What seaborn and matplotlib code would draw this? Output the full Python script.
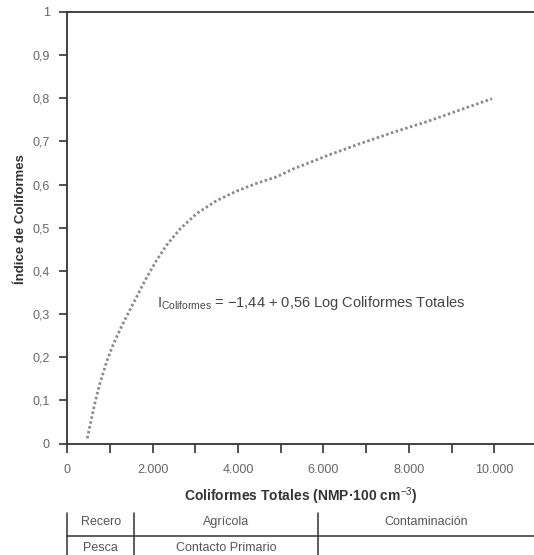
import matplotlib
matplotlib.use("Agg")
import matplotlib.pyplot as plt
import matplotlib.transforms as mtransforms
from matplotlib.ticker import MultipleLocator, FuncFormatter
import seaborn as sns
import pandas as pd

# Data
coliformes = [468, 571, 649, 766, 923, 1077, 1274, 1468, 1625, 1859, 2094, 2328,
              2639, 3030, 3499, 3967, 4436, 4904, 5286, 6082, 6855, 7628, 8424,
              9197, 9946]
indice = [0.012, 0.060, 0.095, 0.140, 0.190, 0.230, 0.272, 0.310, 0.340, 0.385,
          0.425, 0.460, 0.497, 0.533, 0.563, 0.585, 0.603, 0.618, 0.636, 0.667,
          0.695, 0.721, 0.746, 0.773, 0.799]
table_row1 = ["Recero", "Agrícola", "Contaminación"]
table_row2 = ["Pesca", "Contacto Primario"]
table_bounds = [0, 1560, 5870, 10930]

sns.set_theme(style="ticks")
plt.rcParams["font.family"] = ["Liberation Sans", "DejaVu Sans"]
plt.rcParams["mathtext.fontset"] = "custom"
plt.rcParams["mathtext.rm"] = "Liberation Sans"
plt.rcParams["mathtext.it"] = "Liberation Sans:italic"
plt.rcParams["mathtext.bf"] = "Liberation Sans:bold"

df = pd.DataFrame({"x": coliformes, "y": indice})

fig = plt.figure(figsize=(5.34, 5.55), dpi=100)
ax = fig.add_axes([67.3 / 534, 111.5 / 555, 1 - 67.3 / 534, (443.5 - 12) / 555])

sns.lineplot(data=df, x="x", y="y", ax=ax, color="#8a8a8a", linewidth=2.0,
             linestyle=(0, (0.9, 0.9)))

ax.set_xlim(0, 10930)
ax.set_ylim(0, 1)
ax.xaxis.set_major_locator(MultipleLocator(2000))
ax.xaxis.set_minor_locator(MultipleLocator(1000))
ax.yaxis.set_major_locator(MultipleLocator(0.1))


def xfmt(v, pos):
    v = int(round(v))
    if v == 0:
        return "0"
    return f"{v:,}".replace(",", ".")


def yfmt(v, pos):
    if abs(v) < 1e-9:
        return "0"
    if abs(v - 1) < 1e-9:
        return "1"
    return f"{v:.1f}".replace(".", ",")


ax.xaxis.set_major_formatter(FuncFormatter(xfmt))
ax.yaxis.set_major_formatter(FuncFormatter(yfmt))

for side in ["left", "bottom", "top"]:
    ax.spines[side].set_color("#333333")
    ax.spines[side].set_linewidth(1.3)
ax.spines["right"].set_visible(False)

ax.tick_params(axis="y", which="major", length=6, width=1.2, color="#333333",
               labelsize=9, labelcolor="#666666", pad=6.5)
ax.tick_params(axis="x", which="both", length=6.5, width=1.2, color="#333333",
               labelsize=9, labelcolor="#666666", pad=8)

ax.set_xlabel("Coliformes Totales (NMP·100 cm$^{-3}$)", fontsize=10,
              fontweight="bold", color="#333333")
ax.xaxis.set_label_coords(0.5, -0.097)
ax.set_ylabel("Índice de Coliformes", fontsize=9.5, fontweight="bold",
              color="#333333")
ax.yaxis.set_label_coords(-0.086, 0.52)

ax.text(2100, 0.316,
        r"I$_{\mathrm{Coliformes}}$ = −1,44 + 0,56 Log Coliformes Totales",
        fontsize=10.5, color="#444444", va="baseline", ha="left")

# Table below the chart
trans = mtransforms.blended_transform_factory(ax.transData, fig.transFigure)
line_kw = dict(color="#333333", linewidth=1.1, transform=trans, clip_on=False)
y_top = 1 - 513 / 555
y_mid = 1 - 536 / 555
for b in table_bounds[:3]:
    fig.add_artist(plt.Line2D([b, b], [0, y_top], **line_kw))
fig.add_artist(plt.Line2D([table_bounds[0], table_bounds[3]], [y_mid, y_mid], **line_kw))

y_r1 = 1 - 522 / 555
y_r2 = 1 - 548 / 555
for i, label in enumerate(table_row1):
    cx = (table_bounds[i] + table_bounds[i + 1]) / 2
    fig.text(cx, y_r1, label, transform=trans, ha="center", va="center",
             fontsize=9, color="#555555")
for i, label in enumerate(table_row2):
    cx = (table_bounds[i] + table_bounds[i + 1]) / 2
    fig.text(cx, y_r2, label, transform=trans, ha="center", va="center",
             fontsize=9, color="#555555")

fig.savefig("out.png", dpi=100)
